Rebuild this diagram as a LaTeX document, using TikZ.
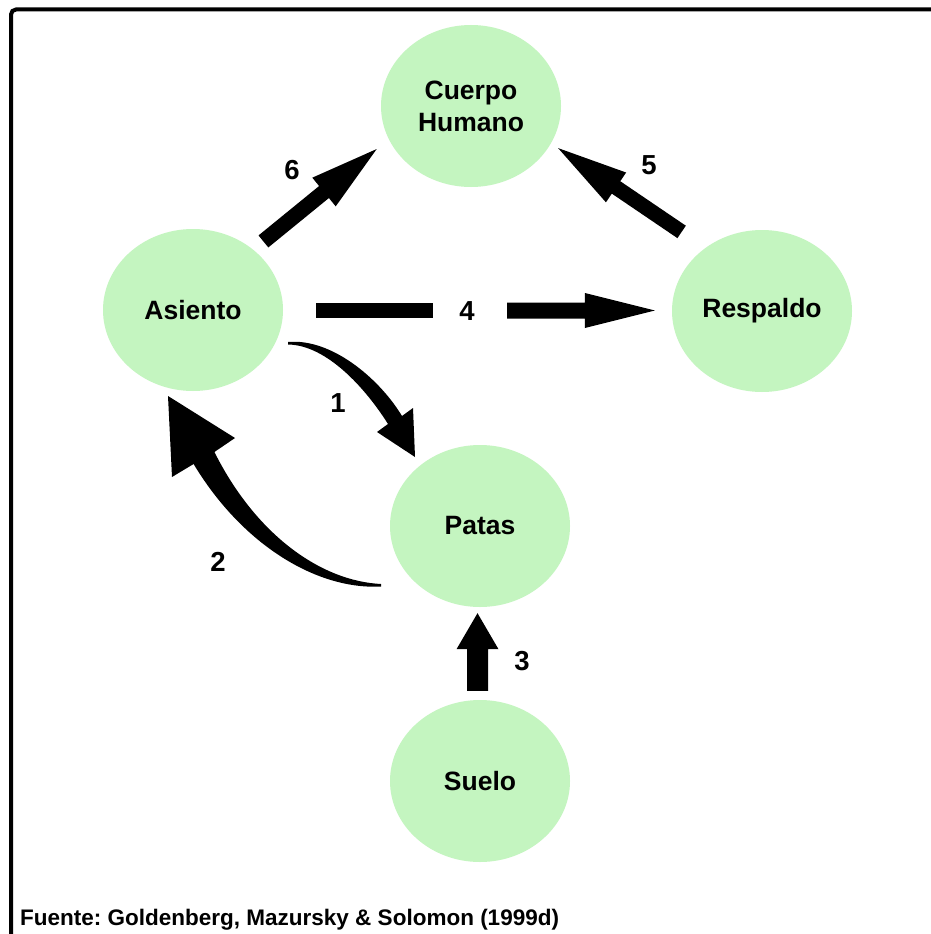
\documentclass[tikz,border=0pt]{standalone}
\usepackage{fontspec}
\setmainfont{Liberation Sans}
\usetikzlibrary{shapes.geometric,calc}
\frenchspacing

\definecolor{partgreen}{RGB}{196,245,192}

\tikzset{
  part/.style={ellipse, fill=partgreen, minimum width=180pt, minimum height=162pt,
    inner sep=0pt, align=center, text=black,
    font=\bfseries\fontsize{26.5}{32}\selectfont},
  num/.style={inner sep=0pt, text=black, font=\bfseries\fontsize{27.5}{32}\selectfont},
  arrowfill/.style={fill=black},
  frame/.style={line width=4pt, rounded corners=5pt},
  source/.style={anchor=base west, inner sep=0pt, font=\bfseries\fontsize{22.5}{26}\selectfont}
}

% Block arrow: #1 tail point, #2 tip point, #3 half shaft width,
% #4 half head width, #5 head length
\newcommand\chairarrow[5]{%
  \coordinate (ca-s) at (#1);
  \coordinate (ca-e) at (#2);
  \coordinate (ca-h) at ($(ca-e)!#5!(ca-s)$);
  \fill[arrowfill] ($(ca-s)!#3!90:(ca-e)$) -- ($(ca-h)!#3!90:(ca-e)$)
    -- ($(ca-h)!#4!90:(ca-e)$) -- (ca-e) -- ($(ca-h)!#4!-90:(ca-e)$)
    -- ($(ca-h)!#3!-90:(ca-e)$) -- ($(ca-s)!#3!-90:(ca-e)$) -- cycle;
}
% Plain bar: #1 start, #2 end, #3 half width
\newcommand\chairbar[3]{%
  \coordinate (cb-s) at (#1);
  \coordinate (cb-e) at (#2);
  \fill[arrowfill] ($(cb-s)!#3!90:(cb-e)$) -- ($(cb-e)!#3!-90:(cb-s)$)
    -- ($(cb-e)!#3!90:(cb-s)$) -- ($(cb-s)!#3!-90:(cb-e)$) -- cycle;
}

\begin{document}
\begin{tikzpicture}[x=1pt,y=-1pt]
\useasboundingbox (0,0) rectangle (931,934);
\fill[white] (0,0) rectangle (931,934);
\draw[frame] (11,934) -- (11,9.5) -- (931,9.5);

% parts of the chair
\node[part] (cuerpo)   at (471,106) {Cuerpo\\Humano};
\node[part] (asiento)  at (193,310) {Asiento};
\node[part] (respaldo) at (762,311) {Respaldo};
\node[part] (patas)    at (480,526) {Patas};
\node[part] (suelo)    at (480,781) {Suelo};

% numbered links
\node[num] (n6) at (292,170) {6};
\node[num] (n5) at (649,165) {5};
\node[num] (n4) at (467,311) {4};
\node[num] (n1) at (338,403) {1};
\node[num] (n2) at (218,562) {2};
\node[num] (n3) at (522,661) {3};

% 6: Asiento -> Cuerpo Humano
\chairarrow{$(asiento.45)!13pt!(cuerpo.202)$}{$(cuerpo.202)!15.5pt!(asiento.45)$}{7.75pt}{18.5pt}{68pt}
% 5: Respaldo -> Cuerpo Humano
\chairarrow{$(respaldo.132)!28.5pt!(cuerpo.335)$}{$(cuerpo.335)!8.5pt!(respaldo.132)$}{7.5pt}{18pt}{70pt}
% 4: Asiento -> Respaldo, broken by its number
\chairbar{$(asiento.east)+(33,0.5)$}{$(n4.center)+(-34,-0.5)$}{7.5pt}
\chairarrow{$(n4.center)+(40,-0.5)$}{$(respaldo.west)+(-17,-0.5)$}{8pt}{17.5pt}{70pt}
% 3: Suelo -> Patas
\chairarrow{$(suelo.north)+(-2.5,-9)$}{$(patas.south)+(-2.5,6)$}{10.5pt}{21pt}{36pt}

% 1: Asiento -> Patas (tapered curved arrow)
\fill[arrowfill] (288,342) .. controls (331,338) and (379,378) .. (402,416)
  -- (413,408) -- (415,457) -- (377,432) -- (388,424)
  .. controls (366,389) and (327,345) .. (288,344.5) -- cycle;

% 2: Patas -> Asiento (tapered curved arrow)
\fill[arrowfill] (381,584) .. controls (321,581) and (256,535) .. (214.4,452)
  -- (235,438) -- (168,396) -- (172,477) -- (193.6,464)
  .. controls (243,546) and (318,590) .. (381,586.5) -- cycle;

\node[source] (src) at (20,925) {Fuente: Goldenberg, Mazursky \& Solomon (1999d)};
\end{tikzpicture}
\end{document}
